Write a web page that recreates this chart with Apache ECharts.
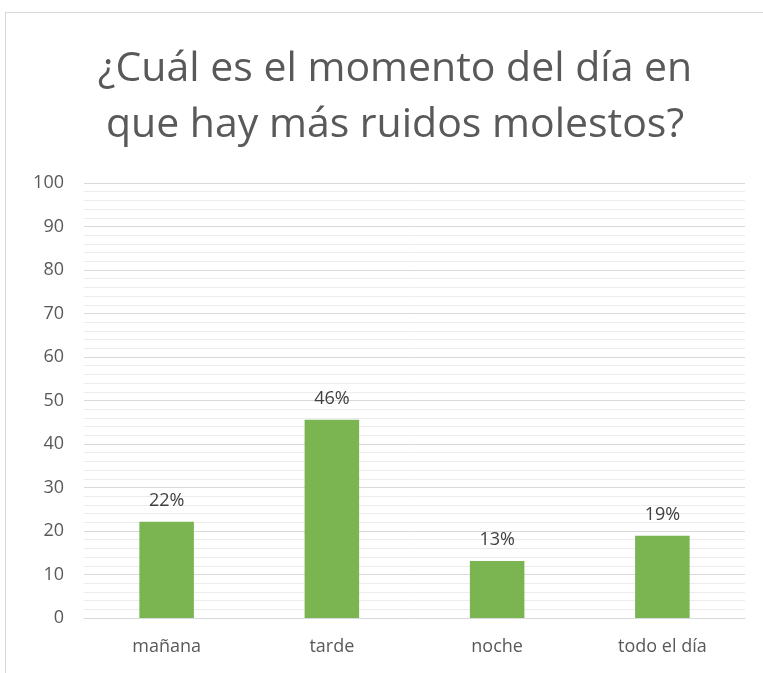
<!DOCTYPE html>
<html>
<head>
<meta charset="utf-8">
<script src="https://cdn.jsdelivr.net/npm/echarts@6/dist/echarts.min.js"></script>
<style>
  html, body { margin: 0; padding: 0; background: #fff; }
  #frame { position: absolute; left: 5px; top: 12px; width: 770px; height: 670px; border: 1px solid #d9d9d9; box-sizing: border-box; }
  #chart { position: absolute; left: 0; top: 0; width: 763px; height: 673px; }
</style>
</head>
<body>
<div id="frame"></div>
<div id="chart"></div>
<script>
const titleText = '¿Cuál es el momento del día en\nque hay más ruidos molestos?';
const categories = ['mañana', 'tarde', 'noche', 'todo el día'];
const values = [22.1, 45.6, 13.1, 18.9];
const labels = ['22%', '46%', '13%', '19%'];

const chart = echarts.init(document.getElementById('chart'));
chart.setOption({
  animation: false,
  title: {
    text: titleText,
    left: 390,
    top: 36,
    textAlign: 'center',
    textStyle: { fontFamily: 'Open Sans', fontSize: 41, fontWeight: 'normal', color: '#595959', lineHeight: 56 }
  },
  grid: { left: 84, right: 18, top: 183, bottom: 55 },
  xAxis: {
    type: 'category',
    data: categories,
    axisLine: { lineStyle: { color: '#d9d9d9', width: 1 } },
    axisTick: { show: false },
    axisLabel: { color: '#595959', fontSize: 18, fontFamily: 'Open Sans', margin: 20 }
  },
  yAxis: {
    type: 'value',
    min: 0,
    max: 100,
    interval: 10,
    axisLine: { show: false },
    axisTick: { show: false },
    axisLabel: { color: '#595959', fontSize: 18, fontFamily: 'Open Sans', margin: 20 },
    splitLine: { lineStyle: { color: '#d9d9d9', width: 1 } },
    minorTick: { show: false, splitNumber: 5 },
    minorSplitLine: { show: true, lineStyle: { color: '#ececec', width: 1 } }
  },
  series: [{
    type: 'bar',
    data: values,
    barWidth: '33%',
    itemStyle: { color: '#7ab552' },
    label: {
      show: true,
      position: 'top',
      distance: 12,
      color: '#404040',
      fontSize: 18,
      fontFamily: 'Open Sans',
      formatter: p => labels[p.dataIndex]
    }
  }]
});
</script>
</body>
</html>
